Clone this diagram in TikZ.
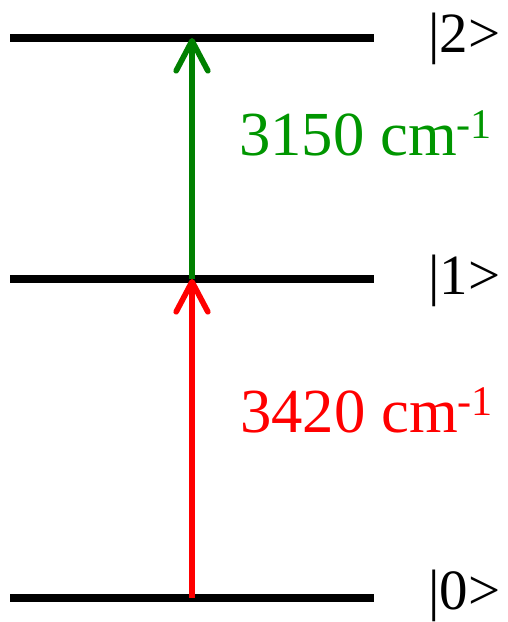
\documentclass[tikz,border=0pt]{standalone}
\usepackage{fontspec}
\setmainfont{Liberation Serif}
\usetikzlibrary{arrows.meta}
\definecolor{lvlgreen}{RGB}{0,128,0}
\definecolor{txtgreen}{RGB}{0,150,0}
\definecolor{lvlred}{RGB}{255,0,0}
\newcommand{\invcm}{cm\raisebox{0.27em}{\fontsize{36}{40}\selectfont -1}}
\tikzset{
  level/.style={line width=6pt},
  trans/.style={line width=4.8pt, -{Straight Barb[length=0.9cm, width=0.95cm, line cap=round, line join=round]}},
  ket/.style={anchor=base west, inner sep=0pt, font=\fontsize{48.6}{58}\selectfont},
  wavenum/.style={anchor=base west, inner sep=0pt, font=\fontsize{53.5}{64}\selectfont}
}
\begin{document}
\begin{tikzpicture}[x=0.03cm, y=-0.03cm]
  \useasboundingbox (0,0) rectangle (507,622);
  % Levels
  \coordinate (l0a) at (10,598);  \coordinate (l0b) at (374,598);
  \coordinate (l1a) at (10,279);  \coordinate (l1b) at (374,279);
  \coordinate (l2a) at (10,38);   \coordinate (l2b) at (374,38);
  \draw[level] (l0a) -- (l0b);
  \draw[level] (l1a) -- (l1b);
  \draw[level] (l2a) -- (l2b);
  % Kets
  \node[ket] (k0) at (428,609) {|0>};
  \node[ket] (k1) at (428,294) {|1>};
  \node[ket] (k2) at (428,53) {|2>};
  % Transitions
  \coordinate (t0) at (192,598);
  \coordinate (t1) at (192,279);
  \coordinate (t2) at (192,38);
  \draw[trans, lvlred] (t0) -- (t1);
  \draw[trans, lvlgreen] (t1) -- (t2);
  \node[wavenum, text=lvlred] (e01) at (240,432) {3420 \invcm};
  \node[wavenum, text=txtgreen] (e12) at (239,155) {3150 \invcm};
\end{tikzpicture}
\end{document}
